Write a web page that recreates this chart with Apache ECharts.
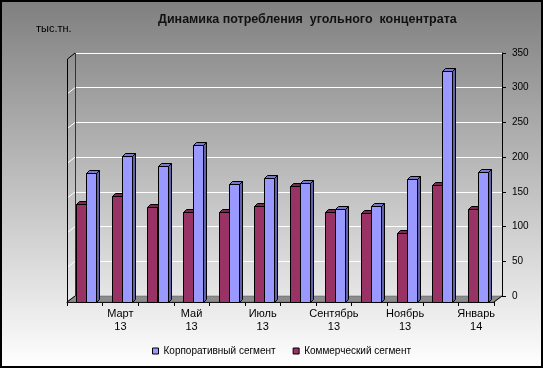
<!DOCTYPE html>
<html><head><meta charset="utf-8">
<script src="https://cdn.jsdelivr.net/npm/echarts@6/dist/echarts.min.js"></script>
<style>html,body{margin:0;padding:0;background:#fff}#c{width:543px;height:368px}</style>
</head><body><div id="c"></div>
<script>
const categories = ['Февраль\n13','Март\n13','Апрель\n13','Май\n13','Июнь\n13','Июль\n13','Август\n13','Сентябрь\n13','Октябрь\n13','Ноябрь\n13','Декабрь\n13','Январь\n14'];
const commercial = [141,153,137,130,130,138,167,129,128,99,168,134];
const corporate  = [186,211,196,226,170,178,171,134,138,177,333,187];
const yTicks = [0,50,100,150,200,250,300,350];
const seriesNames = ['Корпоративный сегмент','Коммерческий сегмент'];
const titleText = 'Динамика потребления  угольного  концентрата';
const unitText = 'тыс.тн.';

const BACK = {left:75, top:53, right:41, bottom:72};
const DX = -8, DY = 6, DEPTH = 3;
const FRONT = {left:BACK.left+DX, top:BACK.top+DY, right:BACK.right-DX, bottom:BACK.bottom-DY};
const FONT = 'Arial, "Liberation Sans", sans-serif';

function makeRender(offFrac, wFrac, front, top, side){
  return function(params, api){
    const i = api.value(0), v = api.value(1);
    const band = api.size([1,0])[0];
    const c = api.coord([i,0]);
    const t = api.coord([i,v]);
    const x0 = Math.round(c[0] + band*offFrac) + 0.5, w = Math.round(band*wFrac);
    const y0 = Math.round(c[1]) + 0.5, y1 = Math.round(t[1]) + 0.5, d = DEPTH;
    return {type:'group', children:[
      {type:'polygon', shape:{points:[[x0+w,y1],[x0+w+d,y1-d],[x0+w+d,y0-d],[x0+w,y0]]}, style:{fill:side, stroke:'#000', lineWidth:1}},
      {type:'polygon', shape:{points:[[x0,y1],[x0+d,y1-d],[x0+w+d,y1-d],[x0+w,y1]]}, style:{fill:top, stroke:'#000', lineWidth:1}},
      {type:'rect', shape:{x:x0,y:y1,width:w,height:y0-y1}, style:{fill:front, stroke:'#000', lineWidth:1}}
    ]};
  };
}

const chart = echarts.init(document.getElementById('c'), null, {renderer:'canvas'});
const maxY = yTicks[yTicks.length-1];
chart.setOption({
  animation:false,
  backgroundColor:{type:'linear',x:0,y:0,x2:0,y2:1,colorStops:[{offset:0,color:'#7f7f7f'},{offset:1,color:'#ffffff'}]},
  title:{text:titleText, left:158, top:13, padding:0, textStyle:{fontSize:12.5, fontWeight:'bold', color:'#111', fontFamily:FONT}},
  legend:{data:seriesNames, left:152, top:346, padding:0, icon:'rect', itemWidth:6, itemHeight:6, itemGap:17,
    itemStyle:{borderColor:'#000', borderWidth:1},
    textStyle:{fontSize:10, color:'#000', fontFamily:FONT}},
  grid:[
    {left:BACK.left, top:BACK.top, right:BACK.right, bottom:BACK.bottom},
    {left:FRONT.left, top:FRONT.top, right:FRONT.right, bottom:FRONT.bottom}
  ],
  xAxis:[
    {gridIndex:0, type:'category', data:categories, show:false},
    {gridIndex:1, type:'category', data:categories,
     axisLine:{show:true, lineStyle:{color:'#000', width:1}},
     axisTick:{show:true, interval:0, length:4, lineStyle:{color:'#000'}},
     axisLabel:{interval:(idx)=>idx%2===1, fontSize:11, lineHeight:13, margin:5, color:'#000', fontFamily:FONT}}
  ],
  yAxis:[
    {gridIndex:0, type:'value', position:'right', min:0, max:maxY, interval:50,
     axisLine:{show:true, lineStyle:{color:'#000'}},
     axisTick:{show:true, length:4, lineStyle:{color:'#000'}},
     axisLabel:{fontSize:10, margin:10, color:'#000', fontFamily:FONT},
     splitLine:{show:true, lineStyle:{color:'#fff', width:1}}},
    {gridIndex:1, type:'value', min:0, max:maxY, interval:50, show:false, splitLine:{show:false}}
  ],
  series:[
    {name:seriesNames[1], type:'custom', xAxisIndex:1, yAxisIndex:1, z:3, clip:false,
     itemStyle:{color:'#993366'},
     renderItem:makeRender(-0.24, 0.28, '#993366', '#7a2850', '#5e1d3e'),
     encode:{x:0,y:1}, data:commercial.map((v,i)=>[i,v])},
    {name:seriesNames[0], type:'custom', xAxisIndex:1, yAxisIndex:1, z:3, clip:false,
     itemStyle:{color:'#9999ff'},
     renderItem:makeRender(0.045, 0.28, '#9999ff', '#7878d0', '#6262aa'),
     encode:{x:0,y:1}, data:corporate.map((v,i)=>[i,v])}
  ]
});

// 3D decorations: floor, left wall, outer border
const W = 543, H = 368;
const bl = BACK.left, br = W - BACK.right, bb = H - BACK.bottom;
const fl = FRONT.left, fr = W - FRONT.right, fb = H - FRONT.bottom;
const els = [];
els.push({type:'polygon', z:1, shape:{points:[[bl,bb],[br,bb],[fr,fb],[fl,fb]]}, style:{fill:'#8c8c8c', stroke:'#555', lineWidth:0.5}});
yTicks.forEach(v=>{
  const y = chart.convertToPixel({yAxisIndex:0}, v);
  if (v>0 && v<maxY) els.push({type:'line', z:1, shape:{x1:fl+0.5, y1:y+DY, x2:bl, y2:y}, style:{stroke:'#fff', lineWidth:1}});
});
const yTop = chart.convertToPixel({yAxisIndex:0}, maxY);
els.push({type:'line', z:1, shape:{x1:fl+0.5, y1:yTop+DY, x2:fl+0.5, y2:fb}, style:{stroke:'#000', lineWidth:1}});
els.push({type:'line', z:1, shape:{x1:bl+0.5, y1:yTop, x2:bl+0.5, y2:bb}, style:{stroke:'#333', lineWidth:1}});
els.push({type:'line', z:1, shape:{x1:fl+0.5, y1:yTop+DY, x2:bl, y2:yTop}, style:{stroke:'#000', lineWidth:1}});
els.push({type:'line', z:1, shape:{x1:fl, y1:fb, x2:bl, y2:bb}, style:{stroke:'#000', lineWidth:1}});
els.push({type:'line', z:1, shape:{x1:fr, y1:fb, x2:br, y2:bb}, style:{stroke:'#000', lineWidth:1}});
els.push({type:'text', z:5, left:36, top:23, style:{text:unitText, font:'11px '+FONT, fill:'#000'}});
els.push({type:'rect', z:100, shape:{x:1,y:1,width:W-2,height:H-2}, style:{fill:null, stroke:'#000', lineWidth:2}});
chart.setOption({graphic:els});
</script></body></html>
